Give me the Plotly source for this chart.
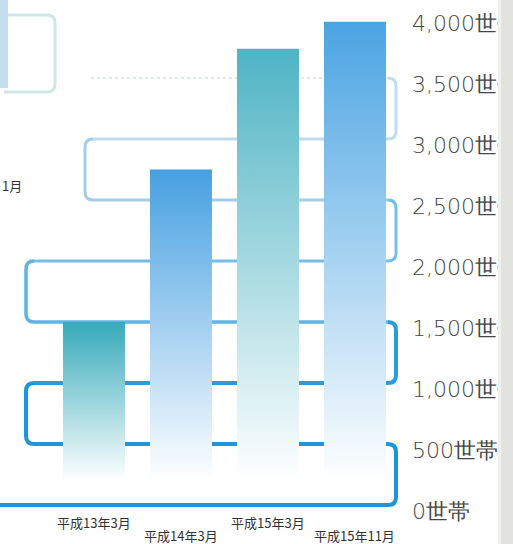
import numpy as np
import plotly.graph_objects as go

# ---- data -------------------------------------------------------------
categories = ["平成13年3月", "平成14年3月", "平成15年3月", "平成15年11月"]
households = [1500, 2750, 3740, 3960]
bar_colors = ["rgb(55,170,186)", "rgb(70,160,225)", "rgb(78,180,196)", "rgb(74,164,226)"]

tick_values = [0, 500, 1000, 1500, 2000, 2500, 3000, 3500, 4000]
tick_text = ["0世帯", "500世帯", "1,000世帯", "1,500世帯", "2,000世帯",
             "2,500世帯", "3,000世帯", "3,500世帯", "4,000世帯"]

# ---- layout geometry ----------------------------------------------------
W, H = 513, 544
M_R, M_B = 108, 20
X_RANGE = [-1.08, 3.575]
Y_RANGE = [-156, 4139]
BAR_W = 0.713
FADE_START = 200          # value where bar gradient reaches white

plot_w = W - M_R
plot_h = H - M_B


def px_x(px):
    return X_RANGE[0] + px / plot_w * (X_RANGE[1] - X_RANGE[0])


def px_y(py):
    return Y_RANGE[1] - py / plot_h * (Y_RANGE[1] - Y_RANGE[0])


RX = 8 / plot_w * (X_RANGE[1] - X_RANGE[0])
RY = 8 / plot_h * (Y_RANGE[1] - Y_RANGE[0])
X_RIGHT = px_x(396)
X_LEFT1 = px_x(26)
X_LEFT2 = px_x(85)

# serpentine guide: (level, from x, to x, turn side x or None, colour, width, dash, layer)
legs = [
    (0,    px_x(-20), X_RIGHT, X_RIGHT, "rgb(28,148,214)", 4, "solid", "above"),
    (500,  X_RIGHT, X_LEFT1, X_LEFT1, "rgb(30,150,215)", 4, "solid", "below"),
    (1000, X_LEFT1, X_RIGHT, X_RIGHT, "rgb(42,156,218)", 4, "solid", "below"),
    (1500, X_RIGHT, X_LEFT1, X_LEFT1, "rgb(98,178,228)", 3.5, "solid", "below"),
    (2000, X_LEFT1, X_RIGHT, X_RIGHT, "rgb(118,189,232)", 3, "solid", "below"),
    (2500, X_RIGHT, X_LEFT2, X_LEFT2, "rgb(162,206,236)", 3, "solid", "below"),
    (3000, X_LEFT2, X_RIGHT, X_RIGHT, "rgb(192,221,238)", 3, "solid", "below"),
    (3500, X_RIGHT, px_x(88), None, "rgb(222,234,240)", 2, "dot", "below"),
]

shapes = []
for i, (lvl, xa, xb, turn, col, w, dash, layer) in enumerate(legs):
    d = 1 if xb > xa else -1
    # start just past the previous corner
    start = xa if i == 0 or legs[i - 1][3] is None else xa + d * RX
    if turn is None:
        path = f"M{start},{lvl} L{xb},{lvl}"
    else:
        top = lvl + 500
        path = (f"M{start},{lvl} L{xb - d * RX},{lvl} Q{xb},{lvl} {xb},{lvl + RY} "
                f"L{xb},{top - RY} Q{xb},{top} {xb - d * RX},{top}")
    shapes.append(dict(type="path", path=path, xref="x", yref="y", layer=layer,
                       line=dict(color=col, width=w, dash=dash)))

# neighbouring panel edge on the left
shapes.append(dict(type="path", xref="x", yref="y", layer="below",
                   path=(f"M{px_x(4)},{px_y(15)} L{px_x(47)},{px_y(15)} "
                         f"Q{px_x(55)},{px_y(15)} {px_x(55)},{px_y(23)} "
                         f"L{px_x(55)},{px_y(84)} Q{px_x(55)},{px_y(92)} {px_x(47)},{px_y(92)} "
                         f"L{px_x(4)},{px_y(92)}"),
                   line=dict(color="rgb(206,232,234)", width=3)))
shapes.append(dict(type="rect", xref="x", yref="y", layer="below",
                   x0=px_x(-2), x1=px_x(8), y0=px_y(88), y1=px_y(-2),
                   fillcolor="rgb(196,222,240)", line=dict(width=0)))

# page edge shading on the right
shapes.append(dict(type="rect", xref="paper", yref="paper", layer="above",
                   x0=498 / plot_w, x1=501 / plot_w, y0=-0.1, y1=1.05,
                   fillcolor="rgb(240,240,237)", line=dict(width=0)))
shapes.append(dict(type="rect", xref="paper", yref="paper", layer="above",
                   x0=501 / plot_w, x1=515 / plot_w, y0=-0.1, y1=1.05,
                   fillcolor="rgb(226,226,222)", line=dict(width=0)))

fig = go.Figure()

for i, (v, col) in enumerate(zip(households, bar_colors)):
    x0, x1 = i - BAR_W / 2, i + BAR_W / 2
    fig.add_trace(go.Scatter(
        x=[x0, x1, x1, x0, x0], y=[0, 0, v, v, 0],
        mode="lines", line=dict(width=0), fill="toself",
        fillgradient=dict(type="vertical",
                          colorscale=[[0, "rgb(255,255,255)"], [1, col]],
                          start=FADE_START, stop=v),
        hoverinfo="skip", showlegend=False,
    ))

label_font = dict(family="Noto Sans CJK JP", size=13, color="rgb(50,50,50)")
annotations = []
for i, name in enumerate(categories):
    annotations.append(dict(
        x=i, xref="x", y=0, yref="paper", yanchor="middle", xanchor="center",
        yshift=2 if i % 2 == 0 else -11, showarrow=False, text=name,
        font=label_font,
    ))
annotations.append(dict(
    x=px_x(0), xref="x", y=px_y(185), yref="y", xanchor="left", yanchor="middle",
    showarrow=False, text="1月", font=label_font,
))

fig.update_layout(
    width=W, height=H,
    margin=dict(l=0, r=M_R, t=0, b=M_B, autoexpand=False),
    paper_bgcolor="white", plot_bgcolor="white",
    shapes=shapes, annotations=annotations,
    xaxis=dict(range=X_RANGE, visible=False, automargin=False),
    yaxis=dict(range=Y_RANGE, side="right", tickvals=tick_values, ticktext=tick_text,
               showgrid=False, zeroline=False, showline=False, ticks="",
               automargin=False, ticklabelshift=6, ticklabelstandoff=6,
               tickfont=dict(family="DejaVu Sans", size=22, color="rgb(70,70,70)",
                             weight=300)),
    showlegend=False,
)

fig.write_html("out.html")
